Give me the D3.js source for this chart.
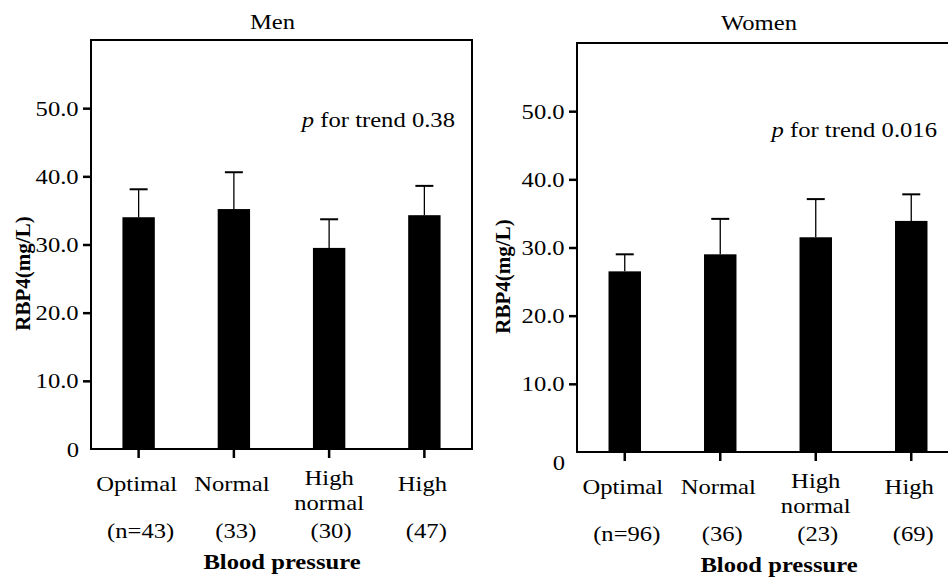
<!DOCTYPE html>
<html>
<head>
<meta charset="utf-8">
<script src="https://cdn.jsdelivr.net/npm/d3@7"></script>
<style>
  html, body { margin: 0; padding: 0; background: #fff; }
  svg { display: block; }
  text { font-family: "Liberation Serif", "Times New Roman", serif; fill: #000; }
</style>
</head>
<body>
<svg id="chart" width="948" height="580"></svg>
<script>
const categories = ['Optimal', 'Normal', 'High normal', 'High'];
const yTicks = [10, 20, 30, 40, 50];

const menMeans = [34.0, 35.2, 29.5, 34.3];
const menSD = [4.1, 5.4, 4.2, 4.3];
const menN = ['(n=43)', '(33)', '(30)', '(47)'];
const menP = '0.38';

const womenMeans = [26.5, 29.0, 31.5, 33.9];
const womenSD = [2.5, 5.2, 5.6, 3.9];
const womenN = ['(n=96)', '(36)', '(23)', '(69)'];
const womenP = '0.016';

const svg = d3.select('#chart');
const SX = 1.12; // the scanned figure is a bit wider than the font

const panels = [
	{ title: 'Men', means: menMeans, sd: menSD, n: menN, p: menP,
		left: 91, right: 472, top: 40, bottom: 449, titleY: 29, pY: 127, pRight: 455,
		yLabelX: 30, zeroDy: 8, xLabelX: 282 },
	{ title: 'Women', means: womenMeans, sd: womenSD, n: womenN, p: womenP,
		left: 577, right: 959, top: 43, bottom: 452, titleY: 30, pY: 137, pRight: 937,
		yLabelX: 510, zeroDy: 18, xLabelX: 779 },
];

function htext(g, x, y, str, anchor = 'middle', size = 22, weight = 'normal') {
	return g.append('text')
		.attr('transform', `translate(${x},${y}) scale(${SX},1)`)
		.attr('text-anchor', anchor)
		.style('font-size', size + 'px')
		.style('font-weight', weight)
		.text(str);
}

panels.forEach((p) => {
	const g = svg.append('g');

	const x = d3.scaleBand()
		.domain(categories)
		.range([p.left, p.right])
		.paddingInner(0.66)
		.paddingOuter(0.33);

	const y = d3.scaleLinear().domain([0, 60]).range([p.bottom, p.top]);

	// title
	htext(g, (p.left + p.right) / 2 - 9, p.titleY, p.title);

	// bars
	g.selectAll('rect.bar')
		.data(p.means)
		.join('rect')
		.attr('class', 'bar')
		.attr('x', (d, i) => x(categories[i]))
		.attr('y', (d) => y(d))
		.attr('width', x.bandwidth())
		.attr('height', (d) => y(0) - y(d))
		.attr('fill', '#000');

	// error bars (upper only)
	const eb = g.selectAll('g.err')
		.data(p.means)
		.join('g')
		.attr('class', 'err')
		.attr('transform', (d, i) => `translate(${x(categories[i]) + x.bandwidth() / 2},0)`);
	eb.append('line')
		.attr('y1', (d) => y(d))
		.attr('y2', (d, i) => y(d + p.sd[i]))
		.attr('stroke', '#000')
		.attr('stroke-width', 1.3);
	eb.append('line')
		.attr('x1', -9)
		.attr('x2', 9)
		.attr('y1', (d, i) => y(d + p.sd[i]))
		.attr('y2', (d, i) => y(d + p.sd[i]))
		.attr('stroke', '#000')
		.attr('stroke-width', 2);

	// frame
	g.append('rect')
		.attr('x', p.left)
		.attr('y', p.top)
		.attr('width', p.right - p.left)
		.attr('height', p.bottom - p.top)
		.attr('fill', 'none')
		.attr('stroke', '#000')
		.attr('stroke-width', 2);

	// y axis
	const ay = g.append('g')
		.attr('transform', `translate(${p.left},0)`)
		.call(d3.axisLeft(y).tickValues(yTicks).tickFormat(d3.format('.1f')).tickSize(8).tickPadding(3));
	ay.select('.domain').remove();
	ay.selectAll('.tick line').attr('stroke-width', 2.5);
	ay.selectAll('.tick text')
		.attr('transform', `scale(${SX},1)`)
		.style('font-size', '22px')
		.style('font-family', '"Liberation Serif", serif');
	htext(g, p.left - 12, y(0) + p.zeroDy, '0', 'end');

	// x axis ticks
	const ax = g.append('g')
		.attr('transform', `translate(0,${y(0)})`)
		.call(d3.axisBottom(x).tickSize(9).tickFormat(''));
	ax.select('.domain').remove();
	ax.selectAll('.tick line').attr('stroke-width', 2.5);

	// category labels
	categories.forEach((c, i) => {
		const cx = x(c) + x.bandwidth() / 2;
		const lines = c === 'High normal' ? ['High', 'normal'] : [c];
		if (lines.length === 2) {
			htext(g, cx, y(0) + 36, lines[0]);
			htext(g, cx, y(0) + 61, lines[1]);
		} else {
			htext(g, cx - 2, y(0) + 42, lines[0]);
		}
		htext(g, cx + 2, y(0) + 89, p.n[i]);
	});

	// x label
	htext(g, p.xLabelX, y(0) + 120, 'Blood pressure', 'middle', 22, 'bold');

	// y label
	g.append('text')
		.attr('transform', `translate(${p.yLabelX},${(p.top + p.bottom) / 2 + 29}) rotate(-90)`)
		.attr('text-anchor', 'middle')
		.style('font-size', '21px')
		.style('font-weight', 'bold')
		.text('RBP4(mg/L)');

	// p for trend
	const pt = htext(g, p.pRight, p.pY, '', 'end');
	pt.append('tspan').style('font-style', 'italic').text('p');
	pt.append('tspan').text(' for trend ' + p.p);
});
</script>
</body>
</html>
